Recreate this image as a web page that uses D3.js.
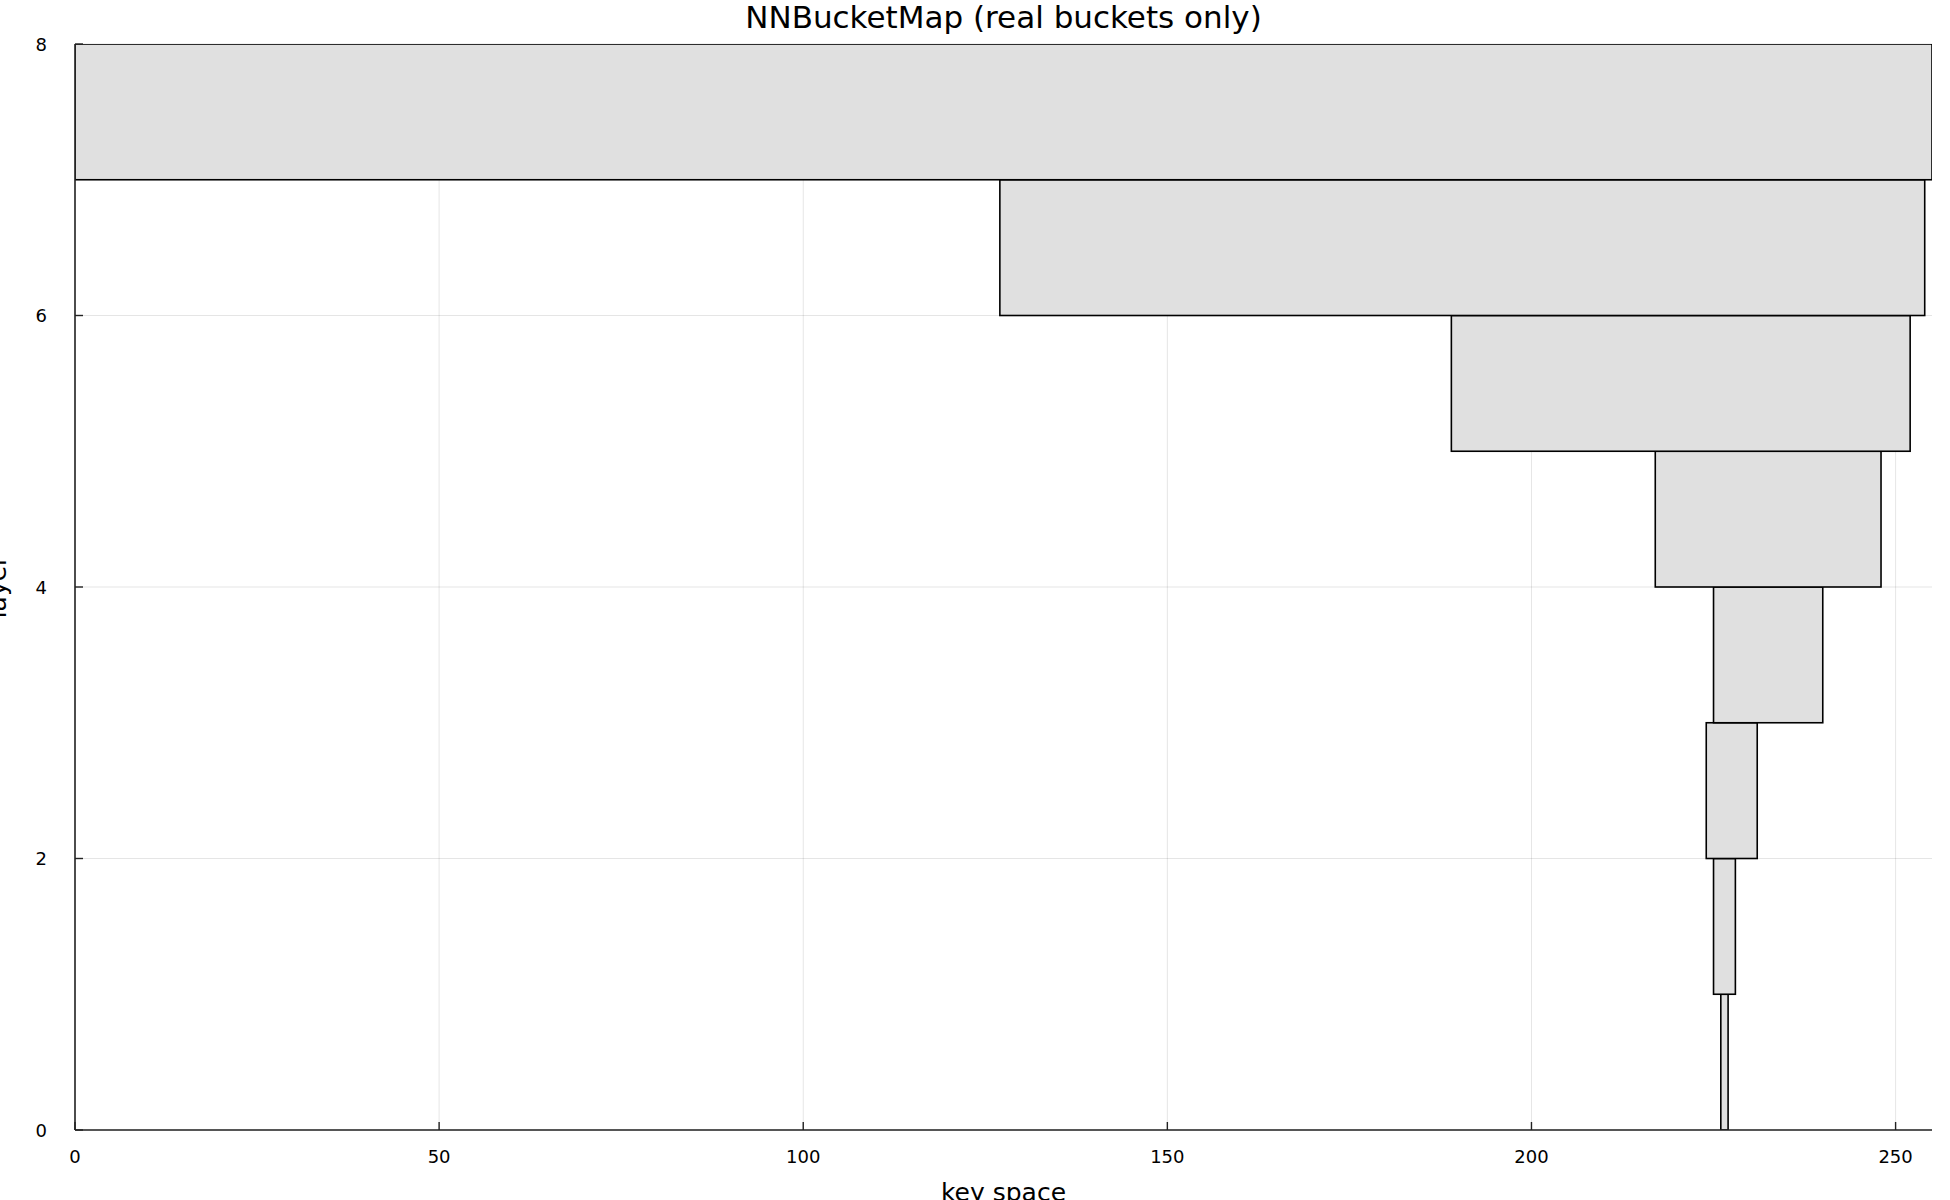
<!DOCTYPE html>
<html>
<head>
<meta charset="utf-8">
<script src="https://cdn.jsdelivr.net/npm/d3@7"></script>
<style>
  html, body { margin: 0; padding: 0; background: #ffffff; overflow: hidden; }
  svg { display: block; font-family: "DejaVu Sans", sans-serif; }
</style>
</head>
<body>
<svg id="chart" width="1950" height="1200"></svg>
<script>
// ---- data ----
const layers = [0, 1, 2, 3, 4, 5, 6, 7];
const bucketStart = [226, 225, 224, 225, 217, 189, 127, 0];
const bucketEnd   = [227, 228, 231, 240, 248, 252, 254, 255];
const xTicks = [0, 50, 100, 150, 200, 250];
const yTicks = [0, 2, 4, 6, 8];
const titleText = "NNBucketMap (real buckets only)";
const xLabel = "key space";
const yLabel = "layer";

// ---- layout ----
const W = 1950, H = 1200;
const plot = { left: 75, right: 1932, top: 44, bottom: 1130 };

const svg = d3.select("#chart");
svg.append("rect").attr("width", W).attr("height", H).attr("fill", "#ffffff");

const x = d3.scaleLinear().domain([0, 255]).range([plot.left, plot.right]);
const y = d3.scaleLinear().domain([0, 8]).range([plot.bottom, plot.top]);

// clip
svg.append("defs").append("clipPath").attr("id", "plotclip")
  .append("rect")
  .attr("x", plot.left).attr("y", plot.top)
  .attr("width", plot.right - plot.left).attr("height", plot.bottom - plot.top);

// grid
const grid = svg.append("g");
grid.selectAll("line.gx").data(xTicks).enter().append("line")
  .attr("x1", d => x(d)).attr("x2", d => x(d))
  .attr("y1", plot.top).attr("y2", plot.bottom)
  .attr("stroke", "#000").attr("stroke-opacity", 0.1).attr("stroke-width", 1);
grid.selectAll("line.gy").data(yTicks).enter().append("line")
  .attr("y1", d => y(d)).attr("y2", d => y(d))
  .attr("x1", plot.left).attr("x2", plot.right)
  .attr("stroke", "#000").attr("stroke-opacity", 0.1).attr("stroke-width", 1);

// bars
const buckets = layers.map((l, i) => ({ layer: l, start: bucketStart[i], end: bucketEnd[i] }));
svg.append("g").attr("clip-path", "url(#plotclip)")
  .selectAll("rect").data(buckets).enter().append("rect")
  .attr("x", d => x(d.start))
  .attr("y", d => y(d.layer + 1))
  .attr("width", d => x(d.end) - x(d.start))
  .attr("height", d => y(d.layer) - y(d.layer + 1))
  .attr("fill", "#e0e0e0")
  .attr("stroke", "#000")
  .attr("stroke-width", 1.6);

// axes spines
const axisColor = "#222";
svg.append("line").attr("x1", plot.left).attr("x2", plot.right)
  .attr("y1", plot.bottom).attr("y2", plot.bottom)
  .attr("stroke", axisColor).attr("stroke-width", 1.6);
svg.append("line").attr("x1", plot.left).attr("x2", plot.left)
  .attr("y1", plot.top).attr("y2", plot.bottom)
  .attr("stroke", axisColor).attr("stroke-width", 1.6);

// ticks (inside)
const tickLen = 8;
svg.append("g").selectAll("line").data(xTicks).enter().append("line")
  .attr("x1", d => x(d)).attr("x2", d => x(d))
  .attr("y1", plot.bottom).attr("y2", plot.bottom - tickLen)
  .attr("stroke", axisColor).attr("stroke-width", 1.4);
svg.append("g").selectAll("line").data(yTicks).enter().append("line")
  .attr("y1", d => y(d)).attr("y2", d => y(d))
  .attr("x1", plot.left).attr("x2", plot.left + tickLen)
  .attr("stroke", axisColor).attr("stroke-width", 1.4);

// tick labels
svg.append("g").selectAll("text").data(xTicks).enter().append("text")
  .attr("x", d => x(d)).attr("y", 1163)
  .attr("text-anchor", "middle")
  .attr("font-size", 18).attr("fill", "#000")
  .text(d => d);
svg.append("g").selectAll("text").data(yTicks).enter().append("text")
  .attr("x", 47).attr("y", d => y(d) + 6.5)
  .attr("text-anchor", "end")
  .attr("font-size", 18).attr("fill", "#000")
  .text(d => d);

// title
svg.append("text")
  .attr("x", (plot.left + plot.right) / 2).attr("y", 28)
  .attr("text-anchor", "middle")
  .attr("font-size", 31).attr("fill", "#000")
  .text(titleText);

// axis labels
svg.append("text")
  .attr("x", (plot.left + plot.right) / 2).attr("y", 1201)
  .attr("text-anchor", "middle")
  .attr("font-size", 25).attr("fill", "#000")
  .text(xLabel);
svg.append("text")
  .attr("transform", `translate(6, ${(plot.top + plot.bottom) / 2}) rotate(-90)`)
  .attr("text-anchor", "middle")
  .attr("font-size", 25).attr("fill", "#000")
  .text(yLabel);
</script>
</body>
</html>
